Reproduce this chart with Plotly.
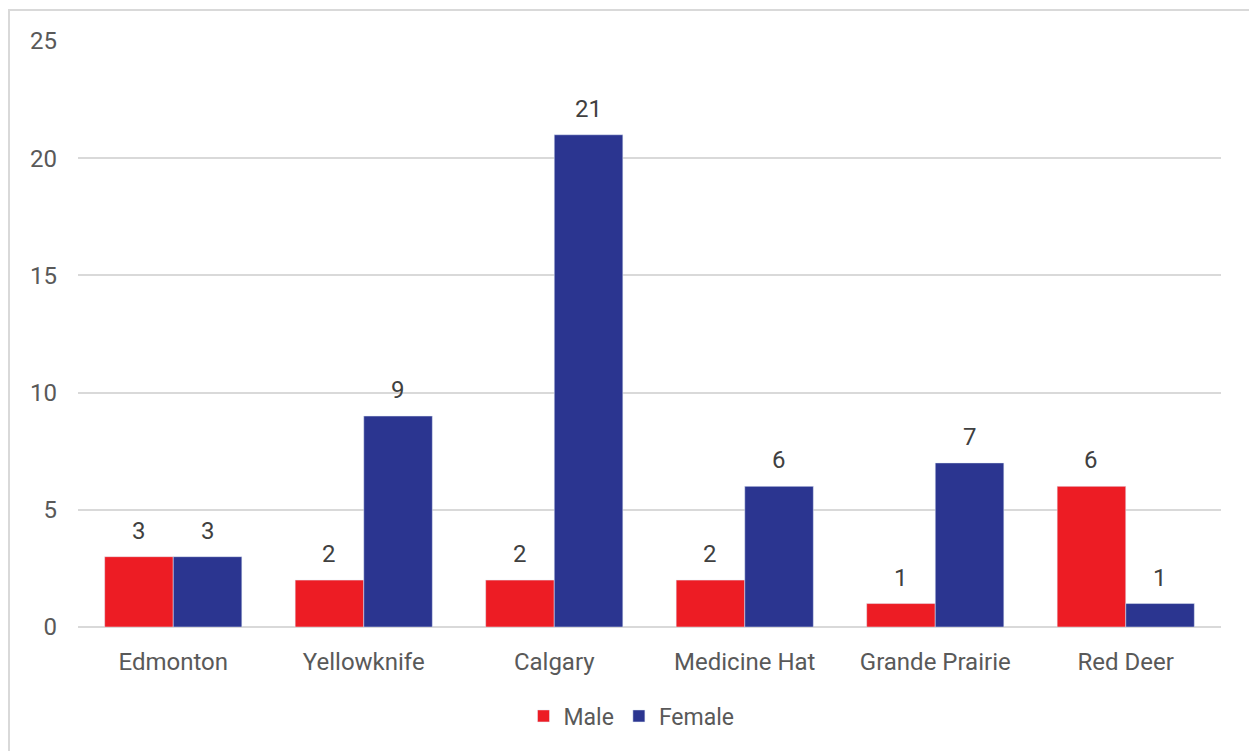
import plotly.graph_objects as go

cities = ["Edmonton", "Yellowknife", "Calgary", "Medicine Hat", "Grande Prairie", "Red Deer"]
male = [3, 2, 2, 2, 1, 6]
female = [3, 9, 21, 6, 7, 1]

FONT = "Roboto"
TXT = "#595959"
LBL = "#404040"

W, H = 1249, 751
ml, mr, mt, mb = 78, 28, 41, 124
pw, ph = W - ml - mr, H - mt - mb
BARGAP = 0.28

fig = go.Figure()
fig.add_trace(go.Bar(name="Male", x=cities, y=male, marker_color="#ed1c24"))
fig.add_trace(go.Bar(name="Female", x=cities, y=female, marker_color="#2b3590"))

# value labels above each bar (two bars per group)
bar_w = pw / len(cities) * (1 - BARGAP) / 2
for series, shift in ((male, -bar_w / 2), (female, bar_w / 2)):
    for c, v in zip(cities, series):
        fig.add_annotation(
            x=c, y=v, text=str(v), showarrow=False,
            xshift=shift, yshift=26, yanchor="middle",
            font=dict(size=24, color=LBL, family=FONT),
        )

# outer frame around the chart
fig.add_shape(
    type="rect", xref="paper", yref="paper",
    x0=(9 - ml) / pw, x1=(W + 5 - ml) / pw,
    y0=-(mb + 10) / ph, y1=1 + (mt - 10) / ph,
    line=dict(color="#d9d9d9", width=2), fillcolor="rgba(0,0,0,0)", layer="below",
)

fig.update_layout(
    width=W, height=H,
    margin=dict(l=ml, r=mr, t=mt, b=mb),
    barmode="group", bargap=BARGAP, bargroupgap=0,
    plot_bgcolor="white", paper_bgcolor="white",
    font=dict(family=FONT, color=TXT, size=24),
    showlegend=True,
    legend=dict(orientation="h", x=0.5 - 18 / pw, xanchor="center",
                y=-(716 - 627) / ph, yanchor="middle",
                font=dict(size=23, color=TXT), itemwidth=30, traceorder="normal"),
    xaxis=dict(showgrid=False, showline=False, ticks="", ticklabelstandoff=18,
               tickfont=dict(size=24, color=TXT)),
    yaxis=dict(range=[0, 25], dtick=5, showgrid=True, gridcolor="#d9d9d9", gridwidth=1.5,
               zeroline=True, zerolinecolor="#d9d9d9", zerolinewidth=1.5,
               showline=False, ticks="", ticklabelstandoff=20,
               tickfont=dict(size=24, color=TXT)),
)

fig.write_html("out.html")
